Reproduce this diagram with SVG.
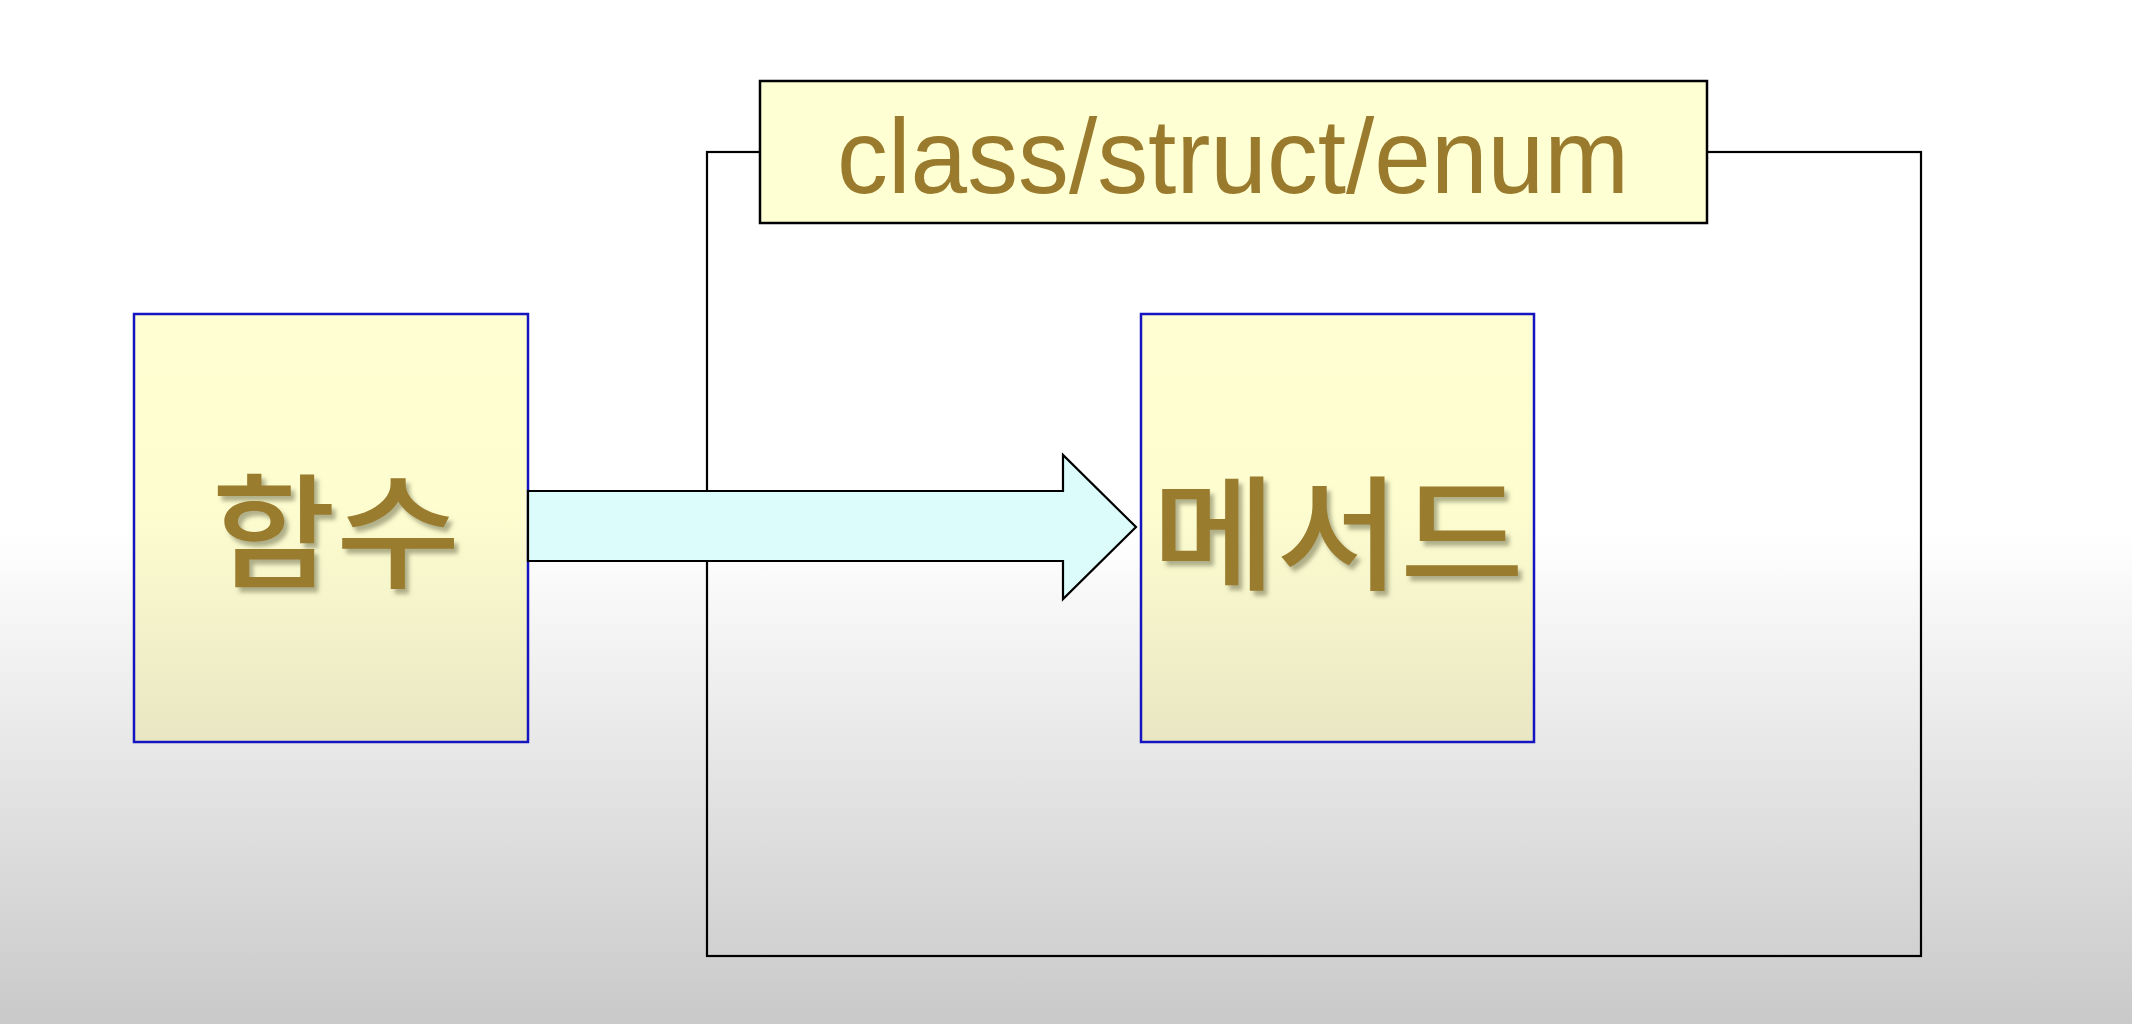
<svg xmlns="http://www.w3.org/2000/svg" width="2132" height="1024" viewBox="0 0 2132 1024">
<defs>
<linearGradient id="bg" x1="0" y1="0" x2="0" y2="1">
<stop offset="0" stop-color="#ffffff"/>
<stop offset="0.52" stop-color="#ffffff"/>
<stop offset="1" stop-color="#c9c9c9"/>
</linearGradient>
<linearGradient id="boxfill" x1="0" y1="0" x2="0" y2="1">
<stop offset="0" stop-color="#fefed2"/>
<stop offset="0.45" stop-color="#fdfdd0"/>
<stop offset="1" stop-color="#e9e7c3"/>
</linearGradient>
<filter id="shadow" x="-10%" y="-10%" width="130%" height="130%">
<feDropShadow dx="4" dy="5" stdDeviation="2" flood-color="#707050" flood-opacity="0.55"/>
</filter>
</defs>
<style>
.node{fill:url(#boxfill);stroke:#1414c0;stroke-width:2.5}
.title{fill:#feffd2;stroke:#000;stroke-width:2.5}
.frame{fill:none;stroke:#000;stroke-width:2.2}
.arrow{fill:#dcfcfc;stroke:#000;stroke-width:2.2;stroke-linejoin:miter}
.ko{font-family:"Noto Sans CJK KR","Noto Sans",sans-serif;font-size:124px;font-weight:500;fill:#9a7b2d;filter:url(#shadow)}
.en{font-family:"Liberation Sans","DejaVu Sans",sans-serif;font-size:106px;fill:#9a7b2d}
</style>
<rect x="0" y="0" width="2132" height="1024" fill="url(#bg)"/>
<g id="class-frame">
<rect class="frame" x="707" y="152" width="1214" height="804"/>
</g>
<g id="class-title">
<rect class="title" x="760" y="81" width="947" height="142"/>
<text class="en" x="837" y="193" textLength="792" lengthAdjust="spacingAndGlyphs">class/struct/enum</text>
</g>
<g id="func">
<rect class="node" x="134" y="314" width="394" height="428"/>
<text class="ko" x="336" y="578" text-anchor="middle" textLength="249" lengthAdjust="spacingAndGlyphs">함수</text>
</g>
<g id="connectors">
<polygon class="arrow" points="528,491 1063,491 1063,455 1136,527 1063,599 1063,561 528,561"/>
</g>
<g id="method">
<rect class="node" x="1141" y="314" width="393" height="428"/>
<text class="ko" x="1338" y="580" text-anchor="middle" textLength="372" lengthAdjust="spacingAndGlyphs">메서드</text>
</g>
</svg>
